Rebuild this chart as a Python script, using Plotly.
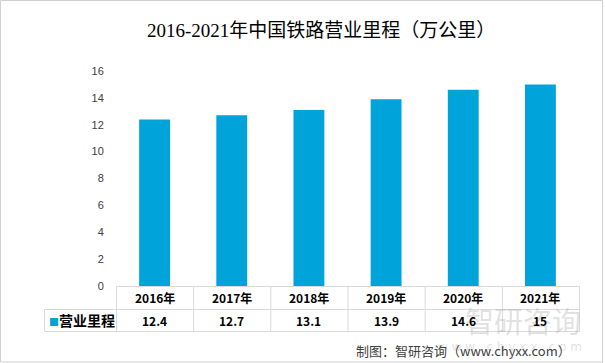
import plotly.graph_objects as go

# ---- data ----
categories = ["2016年", "2017年", "2018年", "2019年", "2020年", "2021年"]
values = [12.4, 12.7, 13.1, 13.9, 14.6, 15]
value_labels = ["12.4", "12.7", "13.1", "13.9", "14.6", "15"]
series_name = "营业里程"
title_text = "2016-2021年中国铁路营业里程（万公里）"
source_text = "制图：智研咨询（www.chyxx.com）"
y_ticks = [0, 2, 4, 6, 8, 10, 12, 14, 16]

BAR = "#00A3DA"
GRID = "#D9D9D9"
W, H = 605, 363
ML, MR, MT, MB = 116, 26, 71, 77
PW = W - ML - MR
PH = H - MT - MB


def px(p):
    return (p - ML) / PW


def py(p):
    return (H - MB - p) / PH


fig = go.Figure()
fig.add_trace(go.Bar(x=categories, y=values, name=series_name,
                     marker=dict(color=BAR, line=dict(width=0)),
                     width=0.4, showlegend=False, hoverinfo="skip"))

shapes = []
line = dict(color=GRID, width=1)
y_top, y_mid, y_bot = 286.5, 309.5, 331.5
x_left, x_start = 44.5, 116.5
col_w = PW / len(categories)
# horizontal lines
shapes.append(dict(type="line", xref="paper", yref="paper", x0=px(x_start), x1=px(ML + PW + 0.5),
                   y0=py(y_top), y1=py(y_top), line=line))
for yy in (y_mid, y_bot):
    shapes.append(dict(type="line", xref="paper", yref="paper", x0=px(x_left), x1=px(ML + PW + 0.5),
                       y0=py(yy), y1=py(yy), line=line))
# vertical lines
shapes.append(dict(type="line", xref="paper", yref="paper", x0=px(x_left), x1=px(x_left),
                   y0=py(y_mid), y1=py(y_bot), line=line))
for k in range(len(categories) + 1):
    xx = ML + k * col_w + 0.5
    shapes.append(dict(type="line", xref="paper", yref="paper", x0=px(xx), x1=px(xx),
                       y0=py(y_top), y1=py(y_bot), line=line))
# outer frame
shapes.append(dict(type="rect", xref="paper", yref="paper", x0=px(0.5), x1=px(602.5),
                   y0=py(0.5), y1=py(362), line=dict(color="#D0D0D0", width=1)))

annotations = []
# watermark (behind)
annotations.append(dict(x=px(523), xref="paper", y=py(320), yref="paper", text="智研咨询",
                        showarrow=False, xanchor="center", yanchor="middle",
                        font=dict(family="Noto Sans CJK SC, sans-serif", size=29, color="rgba(170,170,170,0.35)")))
annotations.append(dict(x=px(510), xref="paper", y=py(347), yref="paper", text="w w w . c h y x x . c o m",
                        showarrow=False, xanchor="center", yanchor="middle",
                        font=dict(family="DejaVu Sans, sans-serif", size=12, color="rgba(170,170,170,0.35)")))

cell_font = dict(family="Noto Sans CJK SC, Liberation Sans, sans-serif", size=12, color="#000000")
for c, v in zip(categories, value_labels):
    annotations.append(dict(x=c, xref="x", y=py(297.5), yref="paper", text="<b>%s</b>" % c,
                            showarrow=False, font=cell_font, xanchor="center", yanchor="middle"))
    annotations.append(dict(x=c, xref="x", y=py(320), yref="paper", text="<b>%s</b>" % v,
                            showarrow=False, font=cell_font, xanchor="center", yanchor="middle"))
annotations.append(dict(x=px(47), xref="paper", y=py(320), yref="paper",
                        text='<span style="color:%s;font-size:10px">■</span><b>%s</b>' % (BAR, series_name),
                        showarrow=False, xanchor="left", yanchor="middle",
                        font=dict(family="Noto Sans CJK SC, sans-serif", size=14, color="#000000")))
# title
annotations.append(dict(x=px(321), xref="paper", y=py(30), yref="paper", text=title_text,
                        showarrow=False, xanchor="center", yanchor="middle",
                        font=dict(family="Liberation Serif, Noto Sans CJK SC, serif", size=19, color="#000000")))
# source
annotations.append(dict(x=px(573), xref="paper", y=py(350), yref="paper", text=source_text,
                        showarrow=False, xanchor="right", yanchor="middle",
                        font=dict(family="Noto Sans CJK SC, sans-serif", size=13, color="#404040")))

fig.update_layout(
    width=W, height=H,
    margin=dict(l=ML, r=MR, t=MT, b=MB, pad=0),
    paper_bgcolor="white", plot_bgcolor="white",
    bargap=0.6,
    xaxis=dict(showticklabels=False, showgrid=False, zeroline=False, showline=False, ticks=""),
    yaxis=dict(range=[0, 16], tickvals=y_ticks, showgrid=False, zeroline=False, showline=False,
               ticks="outside", ticklen=9, tickcolor="rgba(0,0,0,0)",
               tickfont=dict(family="Liberation Sans, Noto Sans, sans-serif", size=11, color="#404040")),
    shapes=shapes, annotations=annotations,
)

fig.write_html("out.html", config={"displayModeBar": False},
               post_script="document.body.style.margin='0';document.body.style.overflow='hidden';")
